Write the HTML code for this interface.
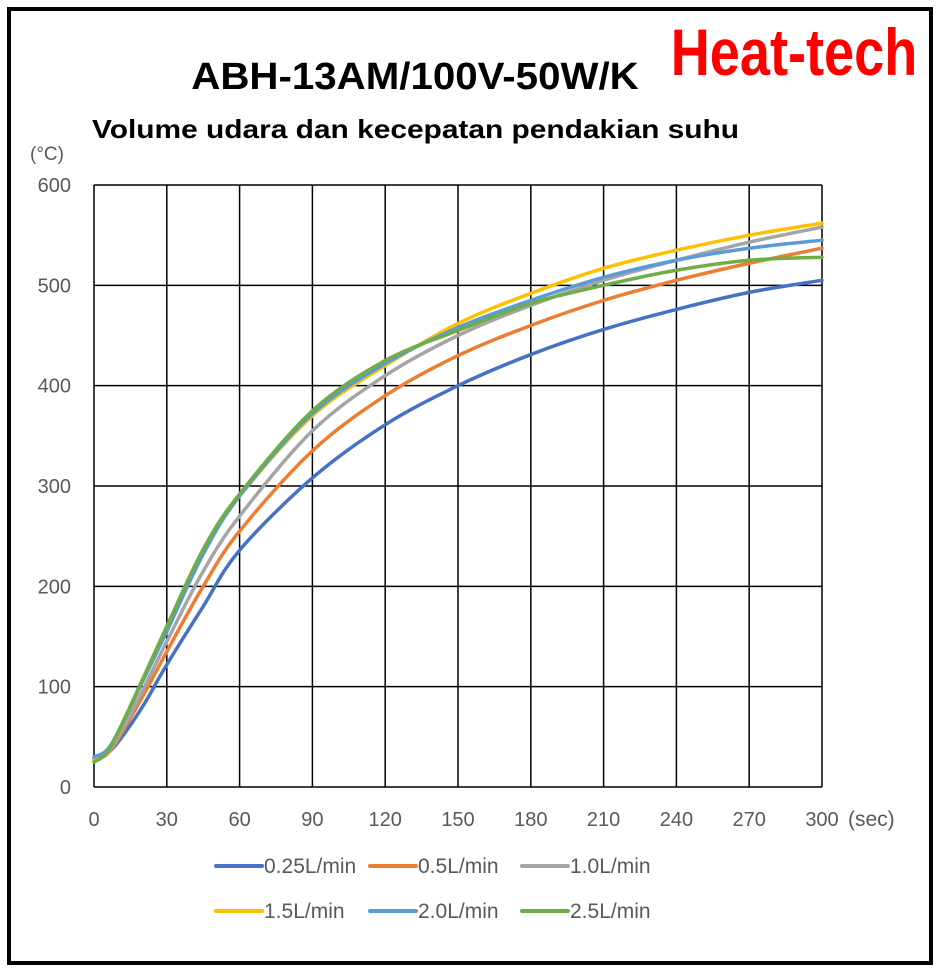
<!DOCTYPE html>
<html><head><meta charset="utf-8"><style>
html,body{margin:0;padding:0;background:#fff;}
svg{display:block;}
text{font-family:"Liberation Sans","Noto Sans CJK JP",sans-serif;}
</style></head><body>
<svg id="s" width="942" height="974" viewBox="0 0 942 974" xmlns="http://www.w3.org/2000/svg">
<rect x="0" y="0" width="942" height="974" fill="#fff"/>
<rect x="9" y="9" width="922" height="954" fill="none" stroke="#000" stroke-width="4"/>
<text x="794" y="75" font-size="66" font-weight="bold" fill="#ff0000" text-anchor="middle" transform="translate(794,0) scale(0.82,1) translate(-794,0)">Heat-tech</text>
<text x="415" y="89" font-size="38" fill="#000" text-anchor="middle" font-weight="bold" transform="translate(415,0) scale(1.06,1) translate(-415,0)">ABH-13AM/100V-50W/K</text>
<text x="92" y="138" font-size="26" font-weight="bold" fill="#000" transform="translate(92,0) scale(1.15,1) translate(-92,0)">Volume udara dan kecepatan pendakian suhu</text>
<text x="30" y="160" font-size="19" fill="#595959">(°C)</text>
<g id="grid" stroke="#000" stroke-width="1.5" fill="none"></g>
<g id="labels" font-size="20" fill="#595959"></g>
<text x="848" y="826" font-size="21" fill="#595959">(sec)</text>
<g id="series" fill="none" stroke-width="3.5" stroke-linecap="round" stroke-linejoin="round"></g>
<g id="legend" font-size="21" fill="#595959"></g>
</svg>
<script>
var NS="http://www.w3.org/2000/svg";
function el(p,t,a,txt){var e=document.createElementNS(NS,t);for(var k in a)e.setAttribute(k,a[k]);if(txt)e.textContent=txt;document.getElementById(p).appendChild(e);return e;}
var X0=94,X1=822,Y0=787,Y1=185;
function px(t){return X0+(X1-X0)*t/300;}
function py(v){return Y0-(Y0-Y1)*v/600;}
for(var i=0;i<=10;i++){var x=px(i*30);el("grid","line",{x1:x,y1:Y1,x2:x,y2:Y0});el("labels","text",{x:x,y:826,"text-anchor":"middle"},String(i*30));}
for(var j=0;j<=6;j++){var y=py(j*100);el("grid","line",{x1:X0,y1:y,x2:X1,y2:y});el("labels","text",{x:71,y:y+7,"text-anchor":"end"},String(j*100));}
var T=[0,5,10,20,30,45,60,90,120,150,180,210,240,270,300];
var S=[
["#4472C4",[28,33,45,80,122,180,236,308,361,400,431,456,476,493,505]],
["#ED7D31",[27,32,48,90,135,200,255,335,390,430,460,485,505,522,537]],
["#A5A5A5",[27,33,50,96,145,215,270,355,410,450,480,505,525,543,558]],
["#FFC000",[27,34,55,107,160,235,290,370,420,462,492,517,535,550,562]],
["#5B9BD5",[30,36,55,105,155,232,290,372,422,458,485,508,525,537,545]],
["#70AD47",[25,33,55,107,160,237,292,375,425,455,482,500,515,525,528]]];
function path(vals){var P=T.map(function(t,i){return [px(t),py(vals[i])];});var d="M"+P[0][0]+","+P[0][1];
for(var i=0;i<P.length-1;i++){var p0=P[Math.max(0,i-1)],p1=P[i],p2=P[i+1],p3=P[Math.min(P.length-1,i+2)];
d+=" C"+(p1[0]+(p2[0]-p0[0])/6)+","+(p1[1]+(p2[1]-p0[1])/6)+" "+(p2[0]-(p3[0]-p1[0])/6)+","+(p2[1]-(p3[1]-p1[1])/6)+" "+p2[0]+","+p2[1];}return d;}
S.forEach(function(s){el("series","path",{d:path(s[1]),stroke:s[0]});});
var L=[["#4472C4","0.25L/min",216,866],["#ED7D31","0.5L/min",370,866],["#A5A5A5","1.0L/min",522,866],["#FFC000","1.5L/min",216,911],["#5B9BD5","2.0L/min",370,911],["#70AD47","2.5L/min",522,911]];
L.forEach(function(l){el("legend","line",{x1:l[2],y1:l[3],x2:l[2]+46,y2:l[3],stroke:l[0],"stroke-width":4,"stroke-linecap":"round"});el("legend","text",{x:l[2]+48,y:l[3]+7},l[1]);});
</script>
</body></html>
